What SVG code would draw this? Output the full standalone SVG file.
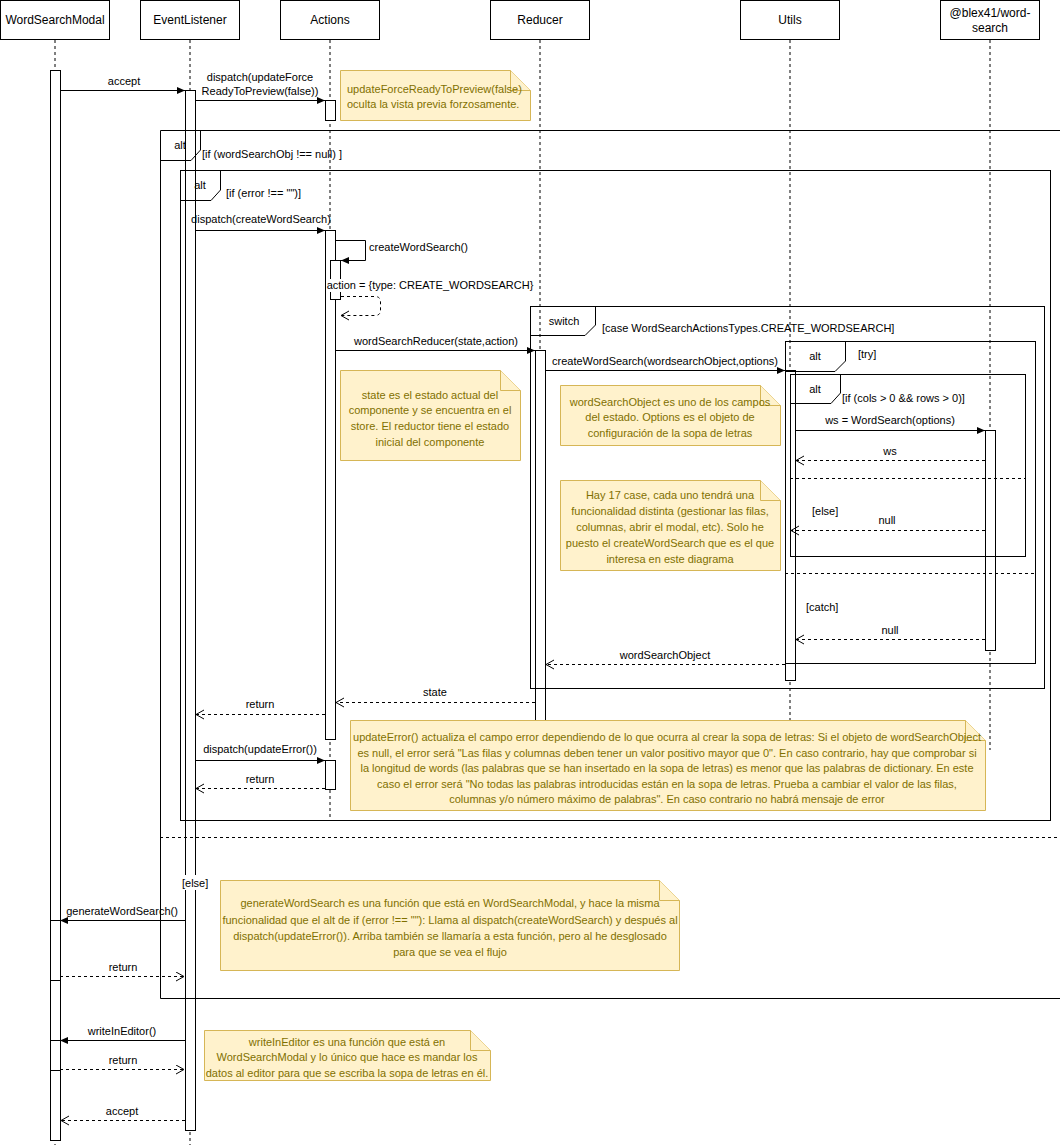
<svg xmlns="http://www.w3.org/2000/svg" width="1060" height="1145" viewBox="0 0 1060 1145">
<style>
text{font-family:"Liberation Sans",Arial,Helvetica,sans-serif;font-size:11px;fill:#000}
.pl{font-size:12px;text-anchor:middle}
.c{text-anchor:middle}
.box{fill:#fff;stroke:#000;stroke-width:1}
.life{stroke:#000;stroke-width:1;stroke-dasharray:3 3;fill:none}
.act{fill:#fff;stroke:#000;stroke-width:1}
.frame{fill:none;stroke:#000;stroke-width:1}
.sep{fill:none;stroke:#000;stroke-width:1;stroke-dasharray:3 3}
.msg{fill:none;stroke:#000;stroke-width:1;marker-end:url(#fill)}
.ret{fill:none;stroke:#000;stroke-width:1;stroke-dasharray:3 3;marker-end:url(#open)}
.note{fill:#fff2cc;stroke:#d6b656;stroke-width:1}
.nt{fill:#7f7000;text-anchor:middle}
.ntl{fill:#7f7000}
.bg{fill:#fff}
</style>
<defs>
<marker id="fill" markerUnits="userSpaceOnUse" markerWidth="10" markerHeight="10" refX="8" refY="3.5" orient="auto"><path d="M0,0 L8,3.5 L0,7 z" fill="#000"/></marker>
<marker id="open" markerUnits="userSpaceOnUse" markerWidth="12" markerHeight="12" refX="9" refY="5" orient="auto"><path d="M1,0.5 L9,5 L1,9.5" fill="none" stroke="#000" stroke-width="1"/></marker>
</defs>

<g id="lifelines">
<path class="life" d="M55,40 V1145"/>
<path class="life" d="M190,40 V1145"/>
<path class="life" d="M330,40 V820"/>
<path class="life" d="M540,40 V720"/>
<path class="life" d="M790,40 V720"/>
<path class="life" d="M990,40 V750"/>
</g>

<g id="p-wordsearchmodal"><rect class="box" x="0.5" y="0.5" width="109" height="39"/><text class="pl" x="55" y="24">WordSearchModal</text></g>
<g id="p-eventlistener"><rect class="box" x="140.5" y="0.5" width="99" height="39"/><text class="pl" x="190" y="24">EventListener</text></g>
<g id="p-actions"><rect class="box" x="280.5" y="0.5" width="99" height="39"/><text class="pl" x="330" y="24">Actions</text></g>
<g id="p-reducer"><rect class="box" x="490.5" y="0.5" width="99" height="39"/><text class="pl" x="540" y="24">Reducer</text></g>
<g id="p-utils"><rect class="box" x="740.5" y="0.5" width="99" height="39"/><text class="pl" x="790" y="24">Utils</text></g>
<g id="p-wordsearch"><rect class="box" x="940.5" y="0.5" width="99" height="39"/><text class="pl" x="990" y="17">@blex41/word-</text><text class="pl" x="990" y="32">search</text></g>

<g id="activations">
<rect class="act" x="50.5" y="70.5" width="10" height="1070"/>
<rect class="act" x="50.5" y="920.5" width="10" height="60"/>
<rect class="act" x="50.5" y="1040.5" width="10" height="30"/>
<rect class="act" x="185.5" y="90.5" width="10" height="1040"/>
<rect class="act" x="325.5" y="100.5" width="10" height="20"/>
<rect class="act" x="325.5" y="230.5" width="10" height="509"/>
<rect class="act" x="330.5" y="260.5" width="10" height="39"/>
<rect class="act" x="325.5" y="760.5" width="10" height="29"/>
<rect class="act" x="535.5" y="350.5" width="10" height="370"/>
<rect class="act" x="785.5" y="370.5" width="10" height="310"/>
<rect class="act" x="985.5" y="430.5" width="10" height="220"/>
</g>

<g id="frame-alt-outer">
<path class="frame" d="M1065,130.5 H160.5 V998.5 H1065"/>
<path class="frame" d="M160.5,160.5 H191 L200.5,150 V130.5"/>
<text class="c" x="180" y="149">alt</text>
<text x="202" y="158">[if (wordSearchObj !== null) ]</text>
<path class="sep" d="M160,837.5 H1060"/>
<rect class="bg" x="181" y="875" width="30" height="15"/>
<text x="182" y="887">[else]</text>
</g>

<g id="frame-alt-error">
<rect class="frame" x="180.5" y="170.5" width="870" height="650"/>
<path class="frame" d="M180.5,200.5 H211 L220.5,190 V170.5"/>
<text class="c" x="200" y="189">alt</text>
<text x="226" y="197">[if (error !== "")]</text>
</g>

<g id="frame-switch">
<rect class="frame" x="530.5" y="306.5" width="514" height="382"/>
<path class="frame" d="M530.5,335.5 H585 L595.5,325 V306.5"/>
<text class="c" x="564" y="325">switch</text>
<text x="602" y="332">[case WordSearchActionsTypes.CREATE_WORDSEARCH]</text>
</g>

<g id="frame-alt-try">
<rect class="frame" x="785.5" y="341.5" width="250" height="322"/>
<path class="frame" d="M785.5,371.5 H835 L845.5,361 V341.5"/>
<text class="c" x="815" y="360">alt</text>
<text x="858" y="358">[try]</text>
<path class="sep" d="M785,573.5 H1035"/>
<text x="806" y="611">[catch]</text>
</g>

<g id="frame-alt-if">
<rect class="frame" x="790.5" y="374.5" width="235" height="182"/>
<path class="frame" d="M790.5,403.5 H831 L840.5,393 V374.5"/>
<text class="c" x="815" y="393">alt</text>
<text x="842" y="402">[if (cols &gt; 0 &amp;&amp; rows &gt; 0)]</text>
<path class="sep" d="M790,478.5 H1025"/>
<text x="812" y="515">[else]</text>
</g>

<g id="note-updateforce">
<path class="note" d="M340.5,70.5 H510.5 L530.5,90.5 V120.5 H340.5 Z"/>
<path class="note" d="M510.5,70.5 V90.5 H530.5"/>
<text class="ntl" x="347" y="93">updateForceReadyToPreview(false)</text>
<text class="ntl" x="347" y="108">oculta la vista previa forzosamente.</text>
</g>

<g id="note-state">
<path class="note" d="M340.5,370.5 H500.5 L520.5,390.5 V460.5 H340.5 Z"/>
<path class="note" d="M500.5,370.5 V390.5 H520.5"/>
<text class="nt" x="430" y="399">state es el estado actual del</text>
<text class="nt" x="430" y="414">componente y se encuentra en el</text>
<text class="nt" x="430" y="430">store. El reductor tiene el estado</text>
<text class="nt" x="430" y="446">inicial del componente</text>
</g>

<g id="note-wordsearchobject">
<path class="note" d="M560.5,385.5 H760.5 L780.5,405.5 V445.5 H560.5 Z"/>
<path class="note" d="M760.5,385.5 V405.5 H780.5"/>
<text class="nt" x="670" y="405.5">wordSearchObject es uno de los campos</text>
<text class="nt" x="670" y="421">del estado. Options es el objeto de</text>
<text class="nt" x="670" y="436.5">configuración de la sopa de letras</text>
</g>

<g id="note-cases">
<path class="note" d="M560.5,480.5 H760.5 L780.5,500.5 V570.5 H560.5 Z"/>
<path class="note" d="M760.5,480.5 V500.5 H780.5"/>
<text class="nt" x="670" y="499">Hay 17 case, cada uno tendrá una</text>
<text class="nt" x="670" y="515">funcionalidad distinta (gestionar las filas,</text>
<text class="nt" x="670" y="531">columnas, abrir el modal, etc). Solo he</text>
<text class="nt" x="670" y="547">puesto el createWordSearch que es el que</text>
<text class="nt" x="670" y="563">interesa en este diagrama</text>
</g>

<g id="note-updateerror">
<path class="note" d="M350.5,720.5 H965.5 L985.5,740.5 V810.5 H350.5 Z"/>
<path class="note" d="M965.5,720.5 V740.5 H985.5"/>
<text class="nt" x="667" y="741">updateError() actualiza el campo error dependiendo de lo que ocurra al crear la sopa de letras: Si el objeto de wordSearchObject</text>
<text class="nt" x="667" y="757">es null, el error será "Las filas y columnas deben tener un valor positivo mayor que 0". En caso contrario, hay que comprobar si</text>
<text class="nt" x="667" y="772">la longitud de words (las palabras que se han insertado en la sopa de letras) es menor que las palabras de dictionary. En este</text>
<text class="nt" x="667" y="788">caso el error será "No todas las palabras introducidas están en la sopa de letras. Prueba a cambiar el valor de las filas,</text>
<text class="nt" x="667" y="803">columnas y/o número máximo de palabras". En caso contrario no habrá mensaje de error</text>
</g>

<g id="note-generate">
<path class="note" d="M220.5,880.5 H659.5 L679.5,900.5 V970.5 H220.5 Z"/>
<path class="note" d="M659.5,880.5 V900.5 H679.5"/>
<text class="nt" x="450" y="907">generateWordSearch es una función que está en WordSearchModal, y hace la misma</text>
<text class="nt" x="450" y="924">funcionalidad que el alt de if (error !== ""): Llama al dispatch(createWordSearch) y después al</text>
<text class="nt" x="450" y="940">dispatch(updateError()). Arriba también se llamaría a esta función, pero al he desglosado</text>
<text class="nt" x="450" y="956">para que se vea el flujo</text>
</g>

<g id="note-writeineditor">
<path class="note" d="M204.5,1030.5 H470.5 L490.5,1050.5 V1080.5 H204.5 Z"/>
<path class="note" d="M470.5,1030.5 V1050.5 H490.5"/>
<text class="nt" x="347" y="1046">writeInEditor es una función que está en</text>
<text class="nt" x="347" y="1061">WordSearchModal y lo único que hace es mandar los</text>
<text class="nt" x="347" y="1077">datos al editor para que se escriba la sopa de letras en él.</text>
</g>

<g id="connectors">
<path class="msg" d="M60,90.5 H185"/>
<text class="c" x="124" y="85">accept</text>
<path class="msg" d="M195,100.5 H325"/>
<text class="c" x="260" y="81">dispatch(updateForce</text>
<text class="c" x="260" y="95">ReadyToPreview(false))</text>
<path class="msg" d="M195,230.5 H325"/>
<text class="c" x="261" y="223">dispatch(createWordSearch)</text>
<path class="msg" d="M335,240.5 H365.5 V260.5 H341"/>
<text x="369" y="251">createWordSearch()</text>
<path class="ret" d="M341,296.5 H375 Q380.5,296.5 380.5,302 V310 Q380.5,315.5 375,315.5 H341"/>
<rect class="bg" x="328" y="279" width="205" height="13"/>
<text class="c" x="430" y="289">action = {type: CREATE_WORDSEARCH}</text>
<path class="msg" d="M335,350.5 H535"/>
<text class="c" x="436" y="345">wordSearchReducer(state,action)</text>
<path class="msg" d="M545,370.5 H785"/>
<text class="c" x="665" y="365">createWordSearch(wordsearchObject,options)</text>
<path class="msg" d="M795,430.5 H985"/>
<text class="c" x="890" y="424">ws = WordSearch(options)</text>
<path class="ret" d="M985,460.5 H796"/>
<text class="c" x="890" y="455">ws</text>
<path class="ret" d="M985,530.5 H791"/>
<text class="c" x="887" y="524">null</text>
<path class="ret" d="M985,639.5 H796"/>
<text class="c" x="890" y="634">null</text>
<path class="ret" d="M785,664.5 H546"/>
<text class="c" x="665" y="659">wordSearchObject</text>
<path class="ret" d="M535,702.5 H336"/>
<text class="c" x="435" y="696">state</text>
<path class="ret" d="M325,714.5 H196"/>
<text class="c" x="260" y="708">return</text>
<path class="msg" d="M195,760.5 H325"/>
<text class="c" x="260" y="753">dispatch(updateError())</text>
<path class="ret" d="M325,788.5 H196"/>
<text class="c" x="260" y="783">return</text>
<path class="msg" d="M185,920.5 H60"/>
<text class="c" x="122" y="915">generateWordSearch()</text>
<path class="ret" d="M60,976.5 H184"/>
<text class="c" x="123" y="971">return</text>
<path class="msg" d="M185,1040.5 H60"/>
<text class="c" x="122" y="1035">writeInEditor()</text>
<path class="ret" d="M60,1069.5 H184"/>
<text class="c" x="123" y="1064">return</text>
<path class="ret" d="M185,1120.5 H61"/>
<text class="c" x="122" y="1115">accept</text>
</g>
</svg>
